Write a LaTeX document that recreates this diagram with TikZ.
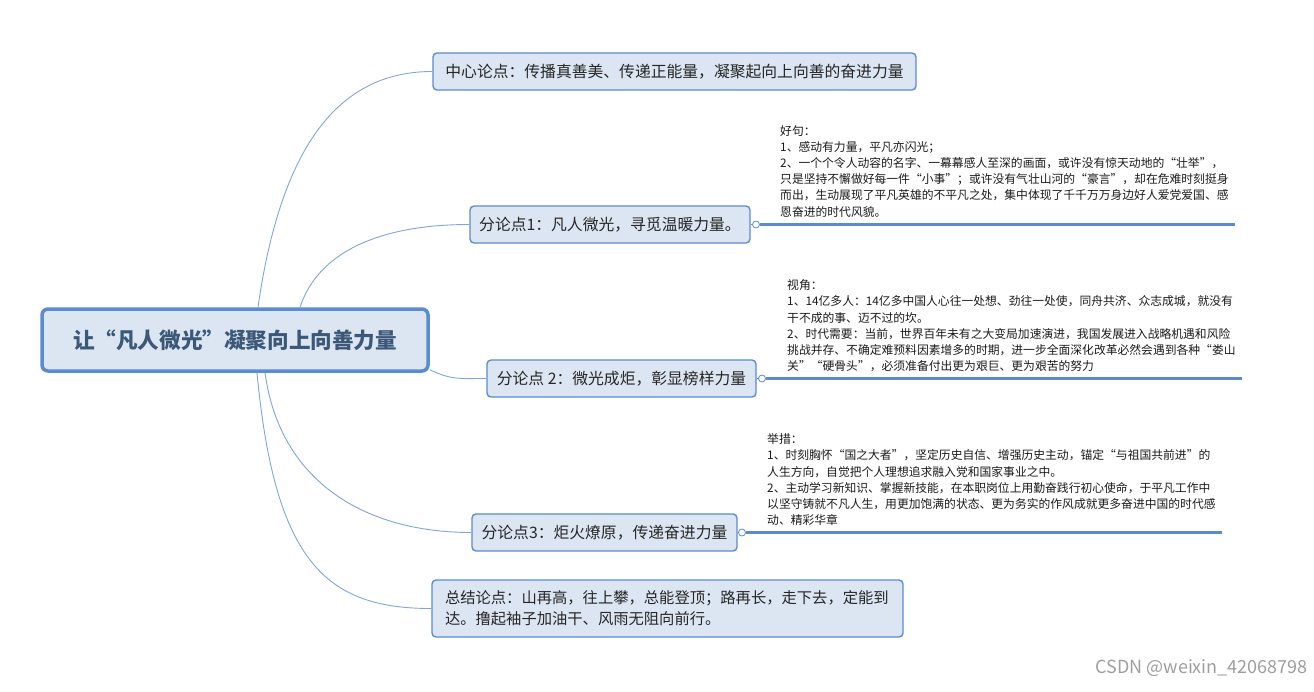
\documentclass[tikz,border=0pt]{standalone}
\usepackage{fontspec}
\setmainfont{Noto Sans CJK SC}
\definecolor{boxfill}{HTML}{DCE6F2}
\definecolor{boxline}{HTML}{5B8BD0}
\definecolor{connc}{HTML}{7FA6DA}
\definecolor{roottext}{HTML}{3C5878}
\definecolor{notetext}{HTML}{1A1A1A}
\definecolor{boxtext}{HTML}{262626}
\definecolor{ulc}{HTML}{5A8AD0}
\tikzset{
  topicbox/.style={draw=boxline, line width=1.4pt, fill=boxfill, rounded corners=4pt,
    text=boxtext, font=\fontsize{15.8}{21}\selectfont, inner sep=0pt},
  rootbox/.style={draw=boxline, line width=3.5pt, fill=boxfill, rounded corners=6pt,
    text=roottext, font=\fontsize{21.6}{26}\selectfont\bfseries, inner sep=0pt,
    minimum width=386pt, minimum height=62pt},
  conn/.style={draw=connc, line width=0.9pt},
  notetxt/.style={anchor=north west, align=left, inner sep=0pt, text=notetext,
    font=\fontsize{11.8}{16.2}\selectfont},
  knob/.style={circle, draw=boxline, fill=white, line width=0.8pt, minimum size=7pt, inner sep=0pt},
  uline/.style={draw=ulc, line width=2.8pt},
  knobline/.style={draw=boxline, line width=0.9pt}
}
\begin{document}
\begin{tikzpicture}[x=1pt,y=-1pt]
\useasboundingbox (0,0) rectangle (1314,691);
% main topic
\node[rootbox] (root) at (235,340) {让“凡人微光”凝聚向上向善力量};
% subtopics
\node[topicbox, minimum width=483pt, minimum height=37pt] (b1) at (674.5,71.5)
  {中心论点：传播真善美、传递正能量，凝聚起向上向善的奋进力量};
\node[topicbox, minimum width=280pt, minimum height=37pt] (b2) at (610,224.5)
  {分论点1：凡人微光，寻觅温暖力量。};
\node[topicbox, minimum width=269pt, minimum height=37pt] (b3) at (621.5,378.5)
  {分论点 2：微光成炬，彰显榜样力量};
\node[topicbox, minimum width=265pt, minimum height=37pt] (b4) at (604.5,532.5)
  {分论点3：炬火燎原，传递奋进力量};
\node[topicbox, minimum width=471pt, minimum height=57pt, text width=445pt, align=left,
  font=\fontsize{15.3}{21}\selectfont] (b5) at (667.5,608.5)
  {总结论点：山再高，往上攀，总能登顶；路再长，走下去，定能到\\达。撸起袖子加油干、风雨无阻向前行。};
% connectors
\draw[conn] ([xshift=23pt]root.north) .. controls +(25,-175) and +(-85,0) .. (b1.west);
\draw[conn] ([xshift=65pt]root.north) .. controls +(18,-55) and +(-90,0) .. (b2.west);
\draw[conn] ([yshift=3pt]root.south east) .. controls +(22,10) and +(-30,0) .. (b3.west);
\draw[conn] ([xshift=30pt]root.south) .. controls +(15,110) and +(-105,0) .. (b4.west);
\draw[conn] ([xshift=22pt]root.south) .. controls +(18,190) and +(-105,0) .. (b5.west);
% notes
\node[knob] (k1) at (756,224.5) {};
\coordinate (e1) at (1235,224.5);
\draw[knobline] (b2.east) -- (k1.west);
\draw[uline] (k1.east) -- (e1);
\node[notetxt] (n1) at (780,125) {好句：\\
1、感动有力量，平凡亦闪光；\\
2、一个个令人动容的名字、一幕幕感人至深的画面，或许没有惊天动地的“壮举”，\\
只是坚持不懈做好每一件“小事”；或许没有气壮山河的“豪言”，却在危难时刻挺身\\
而出，生动展现了平凡英雄的不平凡之处，集中体现了千千万万身边好人爱党爱国、感\\
恩奋进的时代风貌。};
\node[knob] (k2) at (762,378.5) {};
\coordinate (e2) at (1242,378.5);
\draw[knobline] (b3.east) -- (k2.west);
\draw[uline] (k2.east) -- (e2);
\node[notetxt] (n2) at (787,279.5) {视角：\\
1、14亿多人：14亿多中国人心往一处想、劲往一处使，同舟共济、众志成城，就没有\\
干不成的事、迈不过的坎。\\
2、时代需要：当前，世界百年未有之大变局加速演进，我国发展进入战略机遇和风险\\
挑战并存、不确定难预料因素增多的时期，进一步全面深化改革必然会遇到各种“娄山\\
关”“硬骨头”，必须准备付出更为艰巨、更为艰苦的努力};
\node[knob] (k3) at (742,532.5) {};
\coordinate (e3) at (1222,532.5);
\draw[knobline] (b4.east) -- (k3.west);
\draw[uline] (k3.east) -- (e3);
\node[notetxt] (n3) at (767,433.5) {举措：\\
1、时刻胸怀“国之大者”，坚定历史自信、增强历史主动，锚定“与祖国共前进”的\\
人生方向，自觉把个人理想追求融入党和国家事业之中。\\
2、主动学习新知识、掌握新技能，在本职岗位上用勤奋践行初心使命，于平凡工作中\\
以坚守铸就不凡人生，用更加饱满的状态、更为务实的作风成就更多奋进中国的时代感\\
动、精彩华章};
% watermark
\node[anchor=east, text=black!38, font=\fontsize{18}{20}\selectfont, inner sep=0pt] (wm) at (1308,668) {CSDN @weixin\_42068798};
\end{tikzpicture}
\end{document}
